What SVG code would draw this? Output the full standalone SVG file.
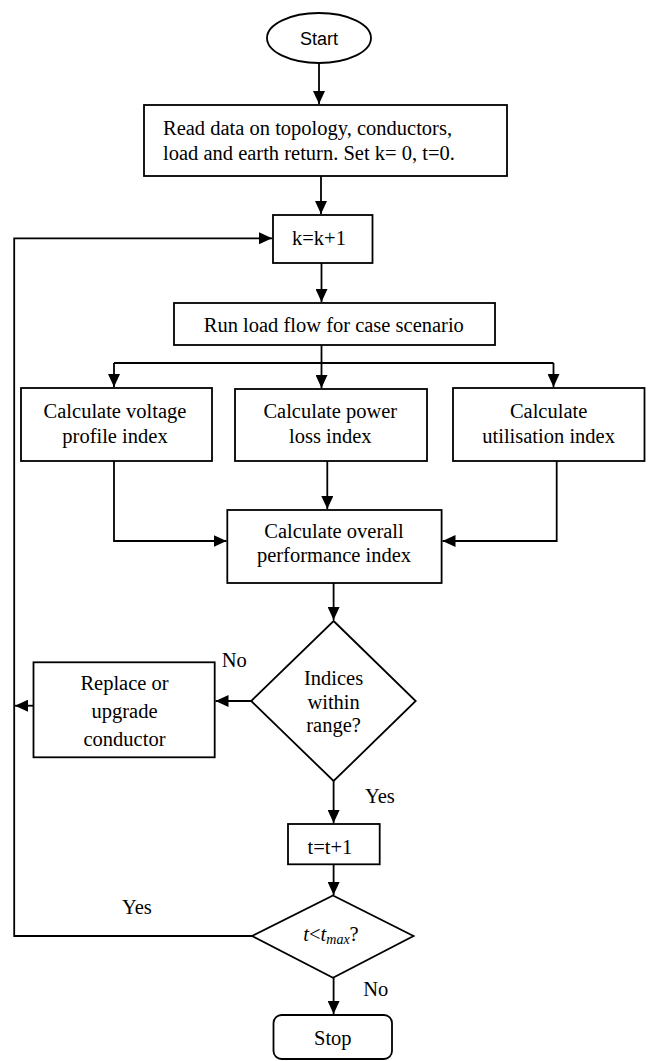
<svg xmlns="http://www.w3.org/2000/svg" width="653" height="1061" viewBox="0 0 653 1061">
<style>
.s{fill:#fff;stroke:#000;stroke-width:1.8}
.t{font-family:"Liberation Serif","Times New Roman",serif;font-size:20.5px;fill:#000;text-anchor:middle}
.l{font-family:"Liberation Serif","Times New Roman",serif;font-size:20.5px;fill:#000}
.c{fill:none;stroke:#000;stroke-width:1.8}
</style>
<defs>
<marker id="a" markerUnits="userSpaceOnUse" markerWidth="14" markerHeight="12" refX="13" refY="6" orient="auto">
<path d="M0,0 L13,6 L0,12 Z" fill="#000"/>
</marker>
</defs>
<rect width="653" height="1061" fill="#fff"/>
<g id="connectors">
<path class="c" d="M319,63 V104" marker-end="url(#a)"/>
<path class="c" d="M321,176 V214" marker-end="url(#a)"/>
<path class="c" d="M321.5,263 V302" marker-end="url(#a)"/>
<path class="c" d="M321.5,345 V363"/>
<path class="c" d="M114,363 H553.5"/>
<path class="c" d="M114,363 V387" marker-end="url(#a)"/>
<path class="c" d="M321.5,363 V388" marker-end="url(#a)"/>
<path class="c" d="M553.5,363 V387" marker-end="url(#a)"/>
<path class="c" d="M114,461 V541 H226.5" marker-end="url(#a)"/>
<path class="c" d="M327.3,461 V509" marker-end="url(#a)"/>
<path class="c" d="M556.7,461 V541 H442.5" marker-end="url(#a)"/>
<path class="c" d="M333.6,583 V620" marker-end="url(#a)"/>
<path class="c" d="M251.2,701 H215.5" marker-end="url(#a)"/>
<path class="c" d="M33.5,705.7 H15" marker-end="url(#a)"/>
<path class="c" d="M333.6,781 V823" marker-end="url(#a)"/>
<path class="c" d="M333.6,864.3 V895" marker-end="url(#a)"/>
<path class="c" d="M252,936 H14.2 V238.3 H272" marker-end="url(#a)"/>
<path class="c" d="M333.6,978 V1014" marker-end="url(#a)"/>
<text class="l" x="221.8" y="666.7">No</text>
<text class="l" x="365" y="803">Yes</text>
<text class="l" x="122" y="914">Yes</text>
<text class="l" x="363.3" y="996">No</text>
</g>
<g id="start">
<ellipse class="s" cx="319" cy="38" rx="52" ry="25"/>
<text x="319" y="44.5" font-family="'Liberation Sans',Arial,sans-serif" font-size="18" text-anchor="middle">Start</text>
</g>
<g id="read">
<rect class="s" x="144" y="105" width="363" height="71"/>
<text class="l" x="163" y="135">Read data on topology, conductors,</text>
<text class="l" x="163" y="160">load and earth return. Set k= 0, t=0.</text>
</g>
<g id="kinc">
<rect class="s" x="273" y="215" width="99.5" height="48"/>
<text class="t" x="319" y="245">k=k+1</text>
</g>
<g id="run">
<rect class="s" x="174" y="303" width="321" height="42"/>
<text class="t" x="333.8" y="332">Run load flow for case scenario</text>
</g>
<g id="voltage">
<rect class="s" x="21" y="388" width="191" height="73"/>
<text class="t" x="115" y="418">Calculate voltage</text>
<text class="t" x="115" y="443">profile index</text>
</g>
<g id="loss">
<rect class="s" x="235" y="389" width="192" height="72"/>
<text class="t" x="330.3" y="418">Calculate power</text>
<text class="t" x="330.3" y="443">loss index</text>
</g>
<g id="util">
<rect class="s" x="453" y="388" width="191.5" height="73"/>
<text class="t" x="548.6" y="418">Calculate</text>
<text class="t" x="548.6" y="443">utilisation index</text>
</g>
<g id="overall">
<rect class="s" x="227.3" y="510" width="214.3" height="73"/>
<text class="t" x="334" y="538">Calculate overall</text>
<text class="t" x="334" y="562">performance index</text>
</g>
<g id="indices">
<path class="s" d="M333.6,621 L415.7,701 L333.6,781 L251.2,701 Z"/>
<text class="t" x="333.6" y="685">Indices</text>
<text class="t" x="333.6" y="708.5">within</text>
<text class="t" x="333.6" y="732">range?</text>
</g>
<g id="replace">
<rect class="s" x="33.5" y="662.3" width="181.2" height="95"/>
<text class="t" x="124.5" y="690">Replace or</text>
<text class="t" x="124.5" y="718">upgrade</text>
<text class="t" x="124.5" y="745.5">conductor</text>
</g>
<g id="tinc">
<rect class="s" x="288" y="824" width="91.7" height="40.3"/>
<text class="t" x="330" y="854">t=t+1</text>
</g>
<g id="tmax">
<path class="s" d="M333,895.5 L413.5,936 L333,977.7 L252,936 Z"/>
<text class="t" x="331" y="940.5"><tspan font-style="italic">t</tspan>&lt;<tspan font-style="italic">t</tspan><tspan font-style="italic" font-size="14" dy="3">max</tspan><tspan dy="-3">?</tspan></text>
</g>
<g id="stop">
<rect class="s" x="273.5" y="1015" width="118.5" height="44" rx="8"/>
<text class="t" x="332.8" y="1045">Stop</text>
</g>
</svg>
